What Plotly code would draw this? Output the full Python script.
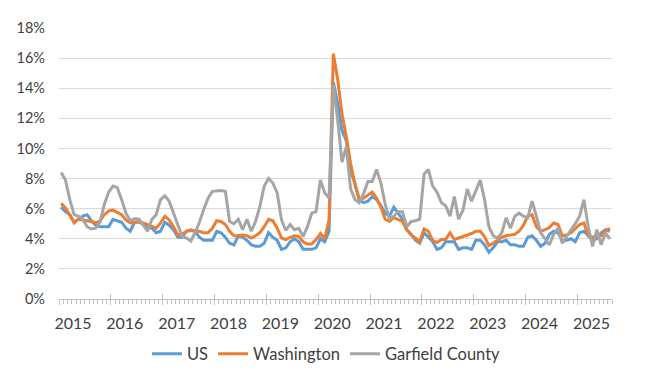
import plotly.graph_objects as go

# Monthly unemployment rate (%), Jan 2015 - Aug 2025
years = ["2015", "2016", "2017", "2018", "2019", "2020", "2021", "2022", "2023", "2024", "2025"]

us = [6.1, 5.8, 5.6, 5.1, 5.3, 5.5, 5.6, 5.2, 4.9, 4.8, 4.8, 4.8,
      5.3, 5.2, 5.1, 4.7, 4.5, 5.1, 5.1, 5.0, 4.8, 4.7, 4.4, 4.5,
      5.1, 4.9, 4.6, 4.1, 4.1, 4.5, 4.6, 4.5, 4.1, 3.9, 3.9, 3.9,
      4.5, 4.4, 4.1, 3.7, 3.6, 4.2, 4.1, 3.9, 3.6, 3.5, 3.5, 3.7,
      4.4, 4.1, 3.9, 3.3, 3.4, 3.8, 4.0, 3.8, 3.3, 3.3, 3.3, 3.4,
      4.0, 3.8, 4.5, 14.4, 13.0, 11.2, 10.5, 8.5, 7.7, 6.6, 6.4, 6.5,
      6.8, 6.6, 6.2, 5.7, 5.5, 6.1, 5.7, 5.3, 4.6, 4.3, 3.9, 3.7,
      4.4, 4.1, 3.8, 3.3, 3.4, 3.8, 3.8, 3.8, 3.3, 3.4, 3.4, 3.3,
      3.9, 3.9, 3.6, 3.1, 3.4, 3.8, 3.8, 3.9, 3.6, 3.6, 3.5, 3.5,
      4.1, 4.2, 3.9, 3.5, 3.7, 4.3, 4.5, 4.4, 3.9, 3.9, 4.0, 3.8,
      4.4, 4.5, 4.2, 3.9, 4.0, 4.4, 4.6, 4.5]

washington = [6.35, 6.05, 5.6, 5.05, 5.3, 5.25, 5.25, 5.15, 5.05, 5.2, 5.6, 5.85,
              5.9, 5.75, 5.6, 5.25, 5.05, 5.1, 5.15, 5.05, 4.95, 4.8, 4.7, 5.05,
              5.5, 5.25, 4.8, 4.25, 4.3, 4.5, 4.55, 4.5, 4.5, 4.4, 4.4, 4.7,
              5.2, 5.15, 4.95, 4.5, 4.2, 4.2, 4.25, 4.2, 4.05, 4.2, 4.4, 4.8,
              5.3, 5.2, 4.7, 4.05, 3.95, 4.1, 4.2, 4.15, 3.8, 3.65, 3.65, 3.95,
              4.35, 4.0, 5.25, 16.3, 14.6, 12.3, 10.8, 9.0, 7.6, 6.6, 6.7, 6.9,
              7.1, 6.7, 6.1, 5.3, 5.15, 5.4, 5.25, 5.15, 4.6, 4.25, 4.05, 3.8,
              4.65, 4.5, 3.9, 3.75, 3.95, 3.95, 4.4, 3.95, 4.05, 4.15, 4.2, 4.35,
              4.5, 4.5, 4.15, 3.55, 3.7, 3.9, 4.1, 4.2, 4.25, 4.3, 4.5, 4.9,
              5.5, 5.6, 4.8, 4.5, 4.6, 4.75, 5.05, 4.95, 4.2, 4.25, 4.4, 4.7,
              4.95, 5.05, 4.2, 4.1, 4.2, 4.2, 4.5, 4.7]

garfield = [8.4, 7.9, 6.6, 5.6, 5.5, 5.3, 4.8, 4.65, 4.7, 5.1, 6.3, 7.1,
            7.5, 7.4, 6.6, 5.7, 5.2, 5.35, 5.3, 4.9, 4.5, 5.3, 5.6, 6.6,
            6.85, 6.5, 5.7, 4.85, 4.15, 4.05, 3.85, 4.4, 5.1, 5.95, 6.7, 7.15,
            7.2, 7.2, 7.15, 5.15, 5.0, 5.3, 4.6, 5.3, 4.5, 5.15, 6.15, 7.5,
            8.0, 7.7, 7.05, 5.25, 4.55, 4.95, 4.6, 4.7, 4.15, 4.8, 5.7, 5.8,
            7.9, 7.05, 6.7, 14.2, 11.9, 9.1, 10.1, 7.3, 6.6, 6.4, 7.0, 7.8,
            7.8, 8.6, 7.7, 6.3, 5.3, 5.5, 5.8, 5.8, 4.8, 5.15, 5.2, 5.3,
            8.3, 8.6, 7.5, 7.1, 6.4, 6.2, 5.5, 6.8, 5.3, 5.9, 7.3, 6.5,
            7.2, 7.9, 6.6, 4.8, 4.2, 4.05, 4.4, 5.4, 4.7, 5.5, 5.7, 5.5,
            5.4, 6.5, 5.5, 4.4, 4.0, 3.6, 4.3, 4.7, 3.7, 4.2, 4.6, 5.0,
            5.5, 6.6, 4.8, 3.5, 4.6, 3.6, 4.4, 4.0]

months = list(range(len(us)))
year_bounds = [12 * k - 0.5 for k in range(len(years))]

FONT = "Lato"
TXT = "#404040"
AX = "#BFBFBF"

fig = go.Figure()
fig.add_trace(go.Scatter(x=months, y=us, name="US", mode="lines",
                         line=dict(color="#5B9BD5", width=3)))
fig.add_trace(go.Scatter(x=months, y=washington, name="Washington", mode="lines",
                         line=dict(color="#ED7D31", width=3)))
fig.add_trace(go.Scatter(x=months, y=garfield, name="Garfield County", mode="lines",
                         line=dict(color="#A5A5A5", width=3)))
# helper trace for the upward half of the crossing tick marks
fig.add_trace(go.Scatter(x=[], y=[], xaxis="x2", showlegend=False, hoverinfo="skip"))

xrange = [-0.5, len(us) - 0.5]

fig.update_layout(
    width=642, height=370,
    margin=dict(l=51, r=38, t=20, b=79, autoexpand=False),
    paper_bgcolor="white", plot_bgcolor="white",
    font=dict(family=FONT, size=14, color=TXT),
    showlegend=True,
    legend=dict(orientation="h", xref="container", x=0.496, xanchor="center",
                yref="container", y=0.065, yanchor="middle",
                font=dict(family=FONT, size=16.5, color=TXT),
                itemwidth=30, tracegroupgap=0),
    xaxis=dict(range=xrange, showgrid=False, zeroline=False, automargin=False,
               showline=True, linecolor=AX, linewidth=1,
               tickmode="array", tickvals=year_bounds, ticktext=years,
               ticks="outside", ticklen=5, tickcolor=AX, tickwidth=1,
               ticklabelshift=14, ticklabelstandoff=5,
               minor=dict(dtick=1, tick0=-0.5, ticks="outside", ticklen=4,
                          tickcolor=AX, tickwidth=1, showgrid=False),
               tickfont=dict(family=FONT, size=16, color=TXT)),
    xaxis2=dict(range=xrange, overlaying="x", anchor="y", side="bottom",
                showgrid=False, zeroline=False, showline=False, automargin=False,
                tickmode="array", tickvals=year_bounds, showticklabels=False,
                ticks="inside", ticklen=5, tickcolor=AX, tickwidth=1),
    yaxis=dict(range=[0, 18], dtick=2, ticksuffix="%", showgrid=True,
               gridcolor="#D9D9D9", gridwidth=1, zeroline=False, showline=False,
               automargin=False, ticks="", ticklabelstandoff=13,
               tickfont=dict(family=FONT, size=14.5, color=TXT)),
)

fig.write_html("out.html")
